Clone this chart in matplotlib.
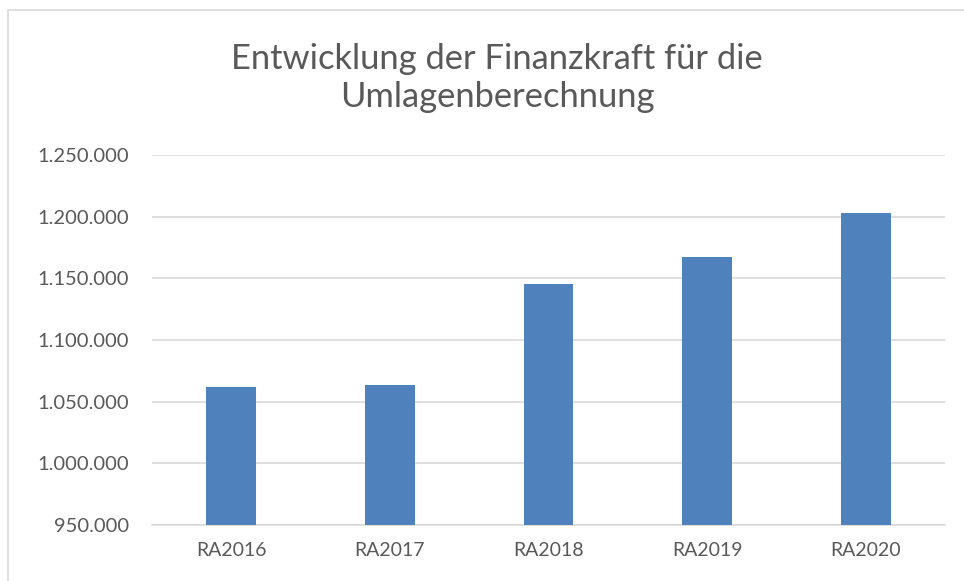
import matplotlib
matplotlib.use("Agg")
import matplotlib.pyplot as plt
from matplotlib.patches import Rectangle
from matplotlib.ticker import FuncFormatter

categories = ["RA2016", "RA2017", "RA2018", "RA2019", "RA2020"]
values = [1061900, 1063500, 1145400, 1167300, 1203000]
yticks = [950000, 1000000, 1050000, 1100000, 1150000, 1200000, 1250000]
title = "Entwicklung der Finanzkraft für die\nUmlagenberechnung"

plt.rcParams['font.family'] = ['Lato', 'DejaVu Sans']
txt = '#595959'

fig = plt.figure(figsize=(9.64, 5.81), dpi=100)
ax = fig.add_axes([152/964, 56/581, (945-152)/964, (525-155)/581])

x = range(len(categories))
ax.bar(x, values, width=0.315, color='#4F81BD', zorder=3)
ax.set_xlim(-0.5, len(categories) - 0.5)
ax.set_ylim(yticks[0], yticks[-1])
ax.set_yticks(yticks)
ax.yaxis.set_major_formatter(FuncFormatter(lambda v, p: f"{int(v):,}".replace(",", ".")))
ax.set_xticks(list(x))
ax.set_xticklabels(categories)
ax.grid(axis='y', color='#d9d9d9', linewidth=1.2, zorder=0)
for s in ['top', 'right', 'left']:
    ax.spines[s].set_visible(False)
ax.spines['bottom'].set_color('#d9d9d9')
ax.spines['bottom'].set_linewidth(1.2)
ax.tick_params(axis='y', length=0, colors=txt, labelsize=14.5, pad=16.5)
ax.tick_params(axis='x', length=0, colors=txt, labelsize=14, pad=12)

fig.text(497/964, 1 - 78/581, title, ha='center', va='center', fontsize=24.8,
         color=txt, linespacing=1.2)

fig.patches.append(Rectangle((8/964, -0.1), 1.0, 1 - 10/581 + 0.1, transform=fig.transFigure,
                             fill=False, edgecolor='#d9d9d9', linewidth=1.2))

fig.savefig("out.png", dpi=100)
